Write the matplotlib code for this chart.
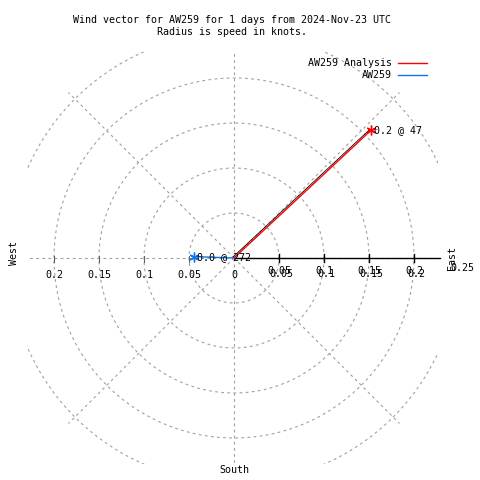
import numpy as np
import matplotlib
matplotlib.use("Agg")
import matplotlib.pyplot as plt
from matplotlib.patches import Rectangle

# ---- data ----
series_names = ["AW259 Analysis", "AW259"]
series_colors = ["#ff0000", "#0a74e8"]
speeds = [0.208, 0.044]          # knots
directions = [47, 272]           # degrees clockwise from North
ring_radii = [0.05, 0.10, 0.15, 0.20, 0.25]
spoke_angles = [0, 45, 90, 135, 180, 225, 270, 315]
left_ticks = [0.2, 0.15, 0.1, 0.05, 0]
right_ticks = [0.05, 0.1, 0.15, 0.2]
title = "Wind vector for AW259 for 1 days from 2024-Nov-23 UTC\nRadius is speed in knots."

# ---- figure: 480x480 px, 900 px per knot, centre at (234, 258) px ----
W = H = 480
scale = 900.0
cx, cy = 234.0, 258.0
fig = plt.figure(figsize=(4.8, 4.8), dpi=100)
ax = fig.add_axes([0, 0, 1, 1])
ax.set_xlim(-cx / scale, (W - cx) / scale)
ax.set_ylim(-(H - cy) / scale, cy / scale)
ax.axis("off")
px = 1.0 / scale

FONT = "DejaVu Sans Mono"
FS = 7.2
grid_col = "#a0a0a0"

# clip box of polar grid
clip = Rectangle((-207 * px, -206 * px), 411 * px, 412 * px, transform=ax.transData,
                 fill=False, visible=False)
ax.add_patch(clip)

th = np.linspace(0, 2 * np.pi, 720)
for r in ring_radii:
    ln, = ax.plot(r * np.cos(th), r * np.sin(th), color=grid_col, lw=0.8,
                  ls=(0, (2.5, 3)))
    ln.set_clip_path(clip)
for a in spoke_angles:
    rad = np.deg2rad(90 - a)
    ln, = ax.plot([0, 0.26 * np.cos(rad)], [0, 0.26 * np.sin(rad)], color=grid_col,
                  lw=0.8, ls=(0, (2.5, 3)))
    ln.set_clip_path(clip)

# r axis (east side)
ax.plot([0, 206 * px], [0, 0], color="black", lw=1.0)
for t in right_ticks:
    ax.plot([t, t], [-4 * px, 4 * px], color="black", lw=1.0)
for t in left_ticks[:-1]:
    ax.plot([-t, -t], [-4 * px, 2 * px], color="#606060", lw=0.8)

# tick labels
for t in left_ticks:
    ax.text(-t, -17 * px, f"{t:g}", ha="center", va="center", family=FONT, fontsize=FS)
for t in right_ticks:
    ax.text(t, -13 * px, f"{t:g}", ha="center", va="center", family=FONT, fontsize=FS)
    ax.text(t + 2 * px, -16 * px, f"{t:g}", ha="center", va="center", family=FONT, fontsize=FS)
ax.text(228 * px, -10 * px, "0.25", ha="center", va="center", family=FONT, fontsize=FS)

# compass labels
ax.text(218 * px, 0, "East", rotation=90, ha="center", va="center", family=FONT, fontsize=FS)
ax.text(-220 * px, 5 * px, "West", rotation=90, ha="center", va="center", family=FONT, fontsize=FS)
ax.text(0, -212 * px, "South", ha="center", va="center", family=FONT, fontsize=FS)

# title
fig.text(232 / W, 1 - 26 / H, title, ha="center", va="center", family=FONT,
         fontsize=FS, linespacing=1.25)

# data vectors
for name, col, s, d in zip(series_names, series_colors, speeds, directions):
    rad = np.deg2rad(90 - d)
    x, y = s * np.cos(rad), s * np.sin(rad)
    if name == "AW259 Analysis":
        ax.plot([-1.0 * px, x - 1.0 * px], [1.0 * px, y + 1.0 * px], color="black", lw=0.6)
    ax.plot([0, x], [0, y], color=col, lw=1.0)
    ax.plot([x], [y], marker=(6, 2, 0), color=col, ms=7, mew=1.0)
    ax.text(x + 3 * px, y, f"{s:.1f} @ {d:.0f}", ha="left", va="center",
            family=FONT, fontsize=FS)

# legend
for i, (name, col) in enumerate(zip(series_names, series_colors)):
    ypx = 63 + 12 * i
    yy = (cy - ypx) / scale
    ax.text((392 - cx) / scale, yy, name, ha="right", va="center", family=FONT, fontsize=FS)
    ax.plot([(398 - cx) / scale, (427 - cx) / scale], [yy, yy], color=col, lw=1.0)

fig.savefig("out.png", dpi=100)
